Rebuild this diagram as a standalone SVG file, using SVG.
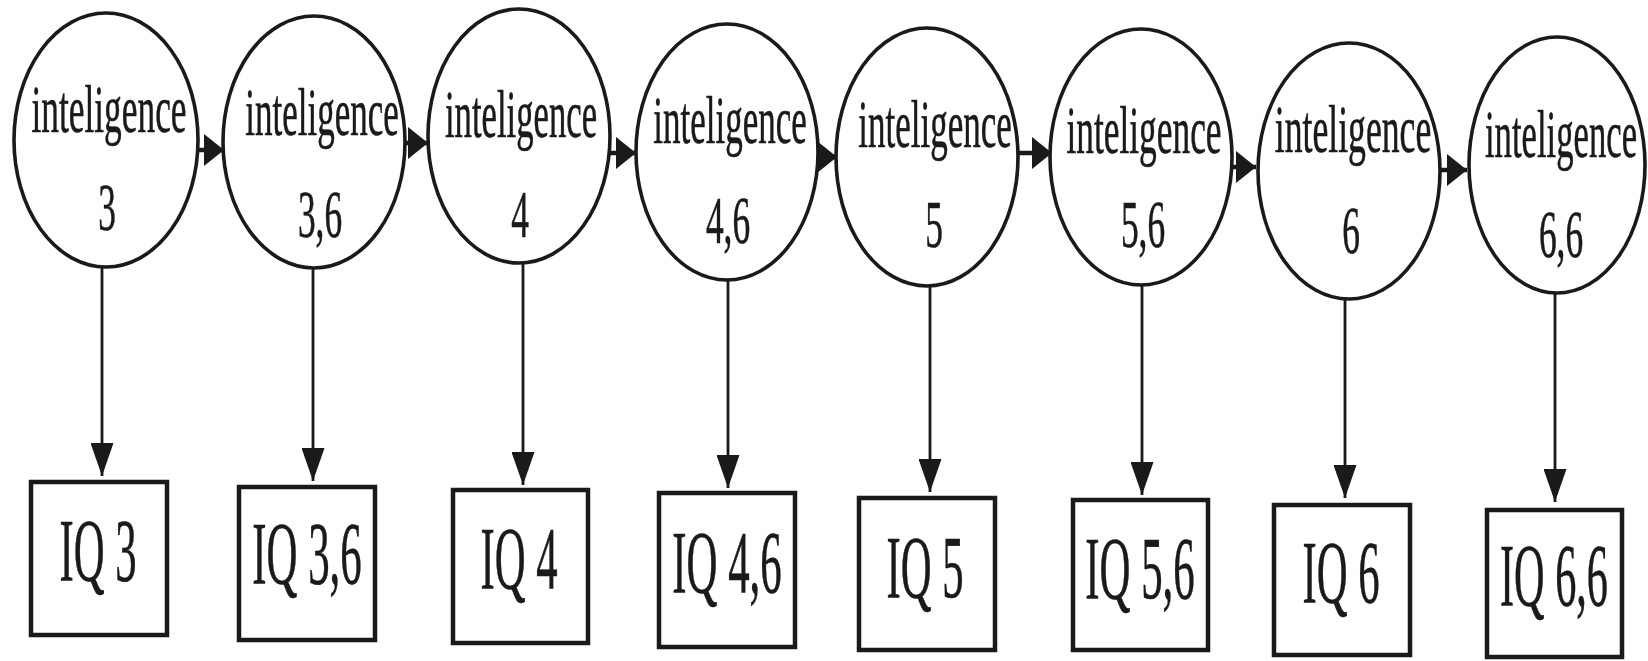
<svg xmlns="http://www.w3.org/2000/svg" width="1648" height="661" viewBox="0 0 1648 661">
<style>
.c{fill:#fff;stroke:#1a1a1a;stroke-width:3.6}
.b{fill:#fff;stroke:#1a1a1a;stroke-width:4.5}
.t{font-family:"Liberation Serif","Times New Roman",serif;font-size:68px;fill:#1a1a1a;stroke:#1a1a1a;stroke-width:0.6;text-anchor:middle}
.q{font-family:"Liberation Serif","Times New Roman",serif;font-size:88px;fill:#1a1a1a;stroke:#1a1a1a;stroke-width:0.6;text-anchor:middle}
.h{stroke:#1a1a1a;stroke-width:4.5;fill:none;marker-end:url(#ah)}
.v{stroke:#1a1a1a;stroke-width:2.8;fill:none;marker-end:url(#av)}
</style>
<defs>
<marker id="ah" markerUnits="userSpaceOnUse" markerWidth="20" markerHeight="32" refX="20" refY="16" orient="auto" viewBox="0 0 20 32"><path d="M0,0 L20,16 L0,32 z" fill="#1a1a1a"/></marker>
<marker id="av" markerUnits="userSpaceOnUse" markerWidth="33" markerHeight="23" refX="33" refY="11.5" orient="auto" viewBox="0 0 33 23"><path d="M0,0 L33,11.5 L0,23 z" fill="#1a1a1a"/></marker>
</defs>
<rect width="1648" height="661" fill="#fff"/>
<g id="connectors">
<line class="h" x1="198" y1="150" x2="224" y2="150"/>
<line class="h" x1="405" y1="143" x2="428" y2="143"/>
<line class="h" x1="610" y1="153" x2="636" y2="153"/>
<line class="h" x1="818" y1="157" x2="837" y2="157"/>
<line class="h" x1="1018" y1="153" x2="1052" y2="153"/>
<line class="h" x1="1232" y1="167" x2="1256" y2="167"/>
<line class="h" x1="1440" y1="170" x2="1467" y2="170"/>
<line class="v" x1="102" y1="267" x2="102" y2="476"/>
<line class="v" x1="313" y1="268" x2="313" y2="481"/>
<line class="v" x1="523" y1="263" x2="523" y2="485"/>
<line class="v" x1="728" y1="280" x2="728" y2="488"/>
<line class="v" x1="930" y1="285" x2="930" y2="492"/>
<line class="v" x1="1142" y1="285" x2="1142" y2="495"/>
<line class="v" x1="1345" y1="299" x2="1345" y2="498"/>
<line class="v" x1="1555" y1="293" x2="1555" y2="502"/>
</g>
<g id="n1"><ellipse class="c" cx="106" cy="140" rx="92" ry="127"/><text class="t" transform="translate(109,132) scale(0.52,1)">inteligence</text><text class="t" transform="translate(107,230) scale(0.52,1)">3</text></g>
<g id="n2"><ellipse class="c" cx="314" cy="142" rx="91" ry="126"/><text class="t" transform="translate(322,135) scale(0.515,1)">inteligence</text><text class="t" transform="translate(320,237) scale(0.52,1)">3,6</text></g>
<g id="n3"><ellipse class="c" cx="519" cy="136" rx="91" ry="127"/><text class="t" transform="translate(521,137) scale(0.51,1)">inteligence</text><text class="t" transform="translate(520,237) scale(0.52,1)">4</text></g>
<g id="n4"><ellipse class="c" cx="727" cy="152" rx="91" ry="128"/><text class="t" transform="translate(730,143) scale(0.515,1)">inteligence</text><text class="t" transform="translate(728,243) scale(0.52,1)">4,6</text></g>
<g id="n5"><ellipse class="c" cx="927" cy="157" rx="91" ry="129"/><text class="t" transform="translate(935,147) scale(0.515,1)">inteligence</text><text class="t" transform="translate(934,247) scale(0.52,1)">5</text></g>
<g id="n6"><ellipse class="c" cx="1141" cy="157" rx="91" ry="128"/><text class="t" transform="translate(1144,153) scale(0.52,1)">inteligence</text><text class="t" transform="translate(1143,247) scale(0.52,1)">5,6</text></g>
<g id="n7"><ellipse class="c" cx="1349" cy="171" rx="91" ry="128"/><text class="t" transform="translate(1353,152) scale(0.525,1)">inteligence</text><text class="t" transform="translate(1351,253) scale(0.52,1)">6</text></g>
<g id="n8"><ellipse class="c" cx="1557" cy="165" rx="88" ry="128"/><text class="t" transform="translate(1561,157) scale(0.51,1)">inteligence</text><text class="t" transform="translate(1561,257) scale(0.52,1)">6,6</text></g>
<g id="b1"><rect class="b" x="31" y="482" width="136" height="153"/><text class="q" transform="translate(98,580) scale(0.485,1)">IQ 3</text></g>
<g id="b2"><rect class="b" x="239" y="487" width="136" height="153"/><text class="q" transform="translate(307,583) scale(0.487,1)">IQ 3,6</text></g>
<g id="b3"><rect class="b" x="453" y="490" width="135" height="153"/><text class="q" transform="translate(519,588) scale(0.485,1)">IQ 4</text></g>
<g id="b4"><rect class="b" x="659" y="493" width="136" height="154"/><text class="q" transform="translate(727,592) scale(0.487,1)">IQ 4,6</text></g>
<g id="b5"><rect class="b" x="859" y="498" width="136" height="152"/><text class="q" transform="translate(925,597) scale(0.485,1)">IQ 5</text></g>
<g id="b6"><rect class="b" x="1073" y="500" width="135" height="150"/><text class="q" transform="translate(1140,598) scale(0.487,1)">IQ 5,6</text></g>
<g id="b7"><rect class="b" x="1274" y="505" width="136" height="150"/><text class="q" transform="translate(1341,602) scale(0.485,1)">IQ 6</text></g>
<g id="b8"><rect class="b" x="1487" y="510" width="135" height="147"/><text class="q" transform="translate(1554,605) scale(0.48,1)">IQ 6,6</text></g>
</svg>
